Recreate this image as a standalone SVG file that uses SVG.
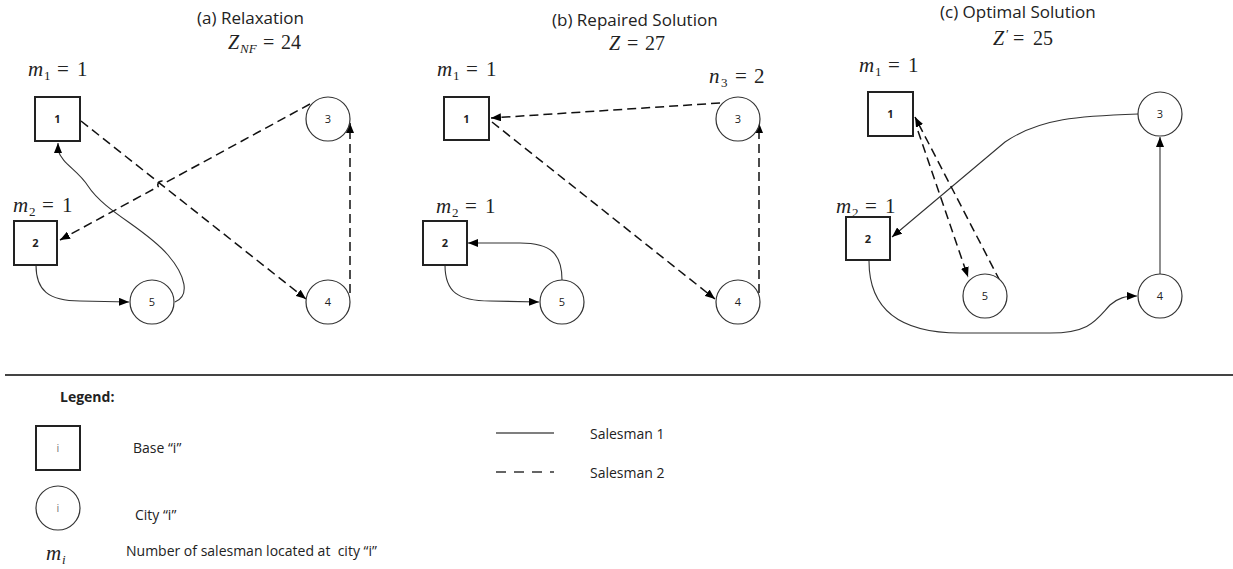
<svg xmlns="http://www.w3.org/2000/svg" width="1233" height="569" viewBox="0 0 1233 569">
  <style>
    .base { fill: #fff; stroke: #222; stroke-width: 2; }
    .city { fill: #fff; stroke: #333; stroke-width: 1.2; }
    .num { font-family: "Open Sans", "Liberation Sans", sans-serif; font-size: 11px; font-weight: bold; fill: #222; text-anchor: middle; }
    .cnum { font-family: "Open Sans", "Liberation Sans", sans-serif; font-size: 11px; fill: #222; text-anchor: middle; }
    .title { font-family: "Open Sans", "Liberation Sans", sans-serif; font-size: 17px; fill: #222; }
    .math { font-family: "Liberation Serif", "DejaVu Serif", serif; font-size: 21px; fill: #222; }
    .zmath { font-family: "Liberation Serif", "DejaVu Serif", serif; font-size: 20px; fill: #222; }
    .mi { font-style: italic; }
    .sub { font-size: 13px; }
    .leg { font-family: "Open Sans", "Liberation Sans", sans-serif; font-size: 14px; fill: #222; }
    .dash { fill: none; stroke: #111; stroke-width: 1.5; stroke-dasharray: 9 5; }
    .solid { fill: none; stroke: #333; stroke-width: 1.1; }
  </style>
  <defs>
    <marker id="arrow" viewBox="0 0 10 8" refX="10" refY="4" markerWidth="10" markerHeight="8" markerUnits="userSpaceOnUse" orient="auto">
      <path d="M0,0 L10,4 L0,8 z" fill="#000"/>
    </marker>
  </defs>
  <rect width="1233" height="569" fill="#fff"/>

  <!-- panel headings -->
  <g id="headings">
    <text class="title" x="197" y="24">(a) Relaxation</text>
    <text class="zmath" y="49"><tspan class="mi" x="228">Z</tspan><tspan class="mi sub" x="240" dy="4">NF</tspan><tspan x="263" dy="-4">=</tspan><tspan x="281">24</tspan></text>
    <text class="title" x="552" y="26">(b) Repaired Solution</text>
    <text class="zmath" y="50"><tspan class="mi" x="609">Z</tspan><tspan x="627">=</tspan><tspan x="645">27</tspan></text>
    <text class="title" x="940" y="18">(c) Optimal Solution</text>
    <text class="zmath" y="45"><tspan class="mi" x="993">Z</tspan><tspan x="1006" dy="-7" class="sub">′</tspan><tspan x="1013" dy="7">=</tspan><tspan x="1033">25</tspan></text>
  </g>

  <!-- counts of salesmen at bases / cities -->
  <g id="counts">
    <text class="math" y="76"><tspan class="mi" x="28">m</tspan><tspan class="sub" x="44" dy="4">1</tspan><tspan x="57" dy="-4">=</tspan><tspan x="77">1</tspan></text>
    <text class="math" y="212"><tspan class="mi" x="13">m</tspan><tspan class="sub" x="29" dy="4">2</tspan><tspan x="42" dy="-4">=</tspan><tspan x="62">1</tspan></text>
    <text class="math" y="76"><tspan class="mi" x="437">m</tspan><tspan class="sub" x="453" dy="4">1</tspan><tspan x="466" dy="-4">=</tspan><tspan x="486">1</tspan></text>
    <text class="math" y="213"><tspan class="mi" x="436">m</tspan><tspan class="sub" x="452" dy="4">2</tspan><tspan x="465" dy="-4">=</tspan><tspan x="485">1</tspan></text>
    <text class="math" y="83"><tspan class="mi" x="709">n</tspan><tspan class="sub" x="721" dy="4">3</tspan><tspan x="735" dy="-4">=</tspan><tspan x="754">2</tspan></text>
    <text class="math" y="72"><tspan class="mi" x="859">m</tspan><tspan class="sub" x="875" dy="4">1</tspan><tspan x="888" dy="-4">=</tspan><tspan x="908">1</tspan></text>
    <text class="math" y="213"><tspan class="mi" x="836">m</tspan><tspan class="sub" x="852" dy="4">2</tspan><tspan x="865" dy="-4">=</tspan><tspan x="885">1</tspan></text>
  </g>

  <!-- routes -->
  <g id="connectors">
    <!-- (a) -->
    <path class="dash" d="M81,121 L306,299" marker-end="url(#arrow)"/>
    <path class="dash" d="M310,104 L165.2,182.8 A4,4 0 0 0 158.2,186.6 L60,240" marker-end="url(#arrow)"/>
    <path class="dash" d="M350,293 L350,123" marker-end="url(#arrow)"/>
    <path class="solid" d="M36,265 C36,290 48,301 80,301 L129,302" marker-end="url(#arrow)"/>
    <path class="solid" d="M175,302 C190,296 186,276 168,255 C145,228 105,212 88,186 C78,170 62,164 58,150 L58,143" marker-end="url(#arrow)"/>
    <!-- (b) -->
    <path class="dash" d="M720,103 L491,118" marker-end="url(#arrow)"/>
    <path class="dash" d="M492,122 L715,299" marker-end="url(#arrow)"/>
    <path class="dash" d="M759,293 L759,123" marker-end="url(#arrow)"/>
    <path class="solid" d="M445,265 C445,292 458,301 490,301 L539,302" marker-end="url(#arrow)"/>
    <path class="solid" d="M562,280 C562,254 551,243 520,243 L468,243" marker-end="url(#arrow)"/>
    <!-- (c) -->
    <path class="solid" d="M1138,114 C1080,116 1040,118 1005,142 L892,237" marker-end="url(#arrow)"/>
    <path class="solid" d="M1160,274 L1160,137" marker-end="url(#arrow)"/>
    <path class="solid" d="M869,261 C869,310 900,333 960,333 L1050,333 C1090,333 1096,320 1110,305 C1118,298 1125,296 1137,296" marker-end="url(#arrow)"/>
    <path class="dash" d="M918,131 L968,277" marker-end="url(#arrow)"/>
    <path class="dash" d="M1000,281 L915,117" marker-end="url(#arrow)"/>
  </g>

  <!-- (a) nodes -->
  <g id="a-base1"><rect class="base" x="35" y="97" width="45" height="44"/><text class="num" x="57.5" y="123">1</text></g>
  <g id="a-base2"><rect class="base" x="14" y="221" width="43" height="44"/><text class="num" x="35.5" y="247">2</text></g>
  <g id="a-city3"><circle class="city" cx="328" cy="119" r="22"/><text class="cnum" x="328" y="123">3</text></g>
  <g id="a-city4"><circle class="city" cx="328" cy="302" r="22"/><text class="cnum" x="328" y="306">4</text></g>
  <g id="a-city5"><circle class="city" cx="152" cy="302" r="22"/><text class="cnum" x="152" y="306">5</text></g>

  <!-- (b) nodes -->
  <g id="b-base1"><rect class="base" x="444" y="97" width="45" height="43"/><text class="num" x="466.5" y="123">1</text></g>
  <g id="b-base2"><rect class="base" x="423" y="221" width="44" height="44"/><text class="num" x="445" y="247">2</text></g>
  <g id="b-city3"><circle class="city" cx="738" cy="119" r="22"/><text class="cnum" x="738" y="123">3</text></g>
  <g id="b-city4"><circle class="city" cx="738" cy="302" r="22"/><text class="cnum" x="738" y="306">4</text></g>
  <g id="b-city5"><circle class="city" cx="562" cy="302" r="22"/><text class="cnum" x="562" y="306">5</text></g>

  <!-- (c) nodes -->
  <g id="c-base1"><rect class="base" x="868" y="92" width="45" height="44"/><text class="num" x="890.5" y="118">1</text></g>
  <g id="c-base2"><rect class="base" x="846" y="217" width="44" height="43"/><text class="num" x="868" y="243">2</text></g>
  <g id="c-city3"><circle class="city" cx="1160" cy="114" r="22"/><text class="cnum" x="1160" y="118">3</text></g>
  <g id="c-city4"><circle class="city" cx="1160" cy="296" r="22"/><text class="cnum" x="1160" y="300">4</text></g>
  <g id="c-city5"><circle class="city" cx="985" cy="296" r="22"/><text class="cnum" x="985" y="300">5</text></g>

  <!-- divider -->
  <line x1="5" y1="375" x2="1233" y2="375" stroke="#444" stroke-width="2"/>

  <!-- legend -->
  <g id="legend">
    <text class="leg" x="60" y="402" font-weight="bold">Legend:</text>
    <rect class="base" x="36" y="426" width="44" height="44"/>
    <text class="cnum" x="58" y="452" style="fill:#777">i</text>
    <text class="leg" x="133" y="453">Base “i”</text>
    <circle class="city" cx="58" cy="508" r="22"/>
    <text class="cnum" x="58" y="512" style="fill:#777">i</text>
    <text class="leg" x="135" y="520">City “i”</text>
    <text class="math" y="560"><tspan class="mi" x="46">m</tspan><tspan class="mi sub" x="62" dy="4">i</tspan></text>
    <text class="leg" x="126" y="556">Number of salesman located at &#160;city “i”</text>
    <line x1="496" y1="433" x2="554" y2="433" stroke="#555" stroke-width="1.5"/>
    <text class="leg" x="590" y="439">Salesman 1</text>
    <line x1="496" y1="472" x2="554" y2="472" stroke="#333" stroke-width="1.5" stroke-dasharray="10 8"/>
    <text class="leg" x="590" y="478">Salesman 2</text>
  </g>
</svg>
